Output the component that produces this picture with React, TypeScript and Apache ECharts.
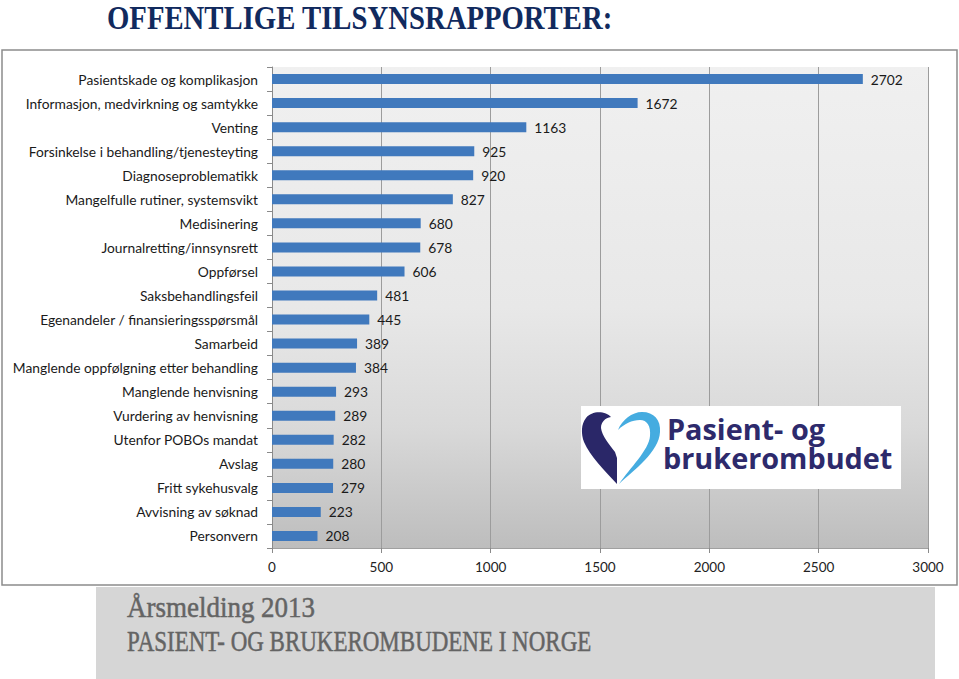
import React, { useEffect, useRef } from "react";
import * as echarts from "echarts";

const categories = [
  "Pasientskade og komplikasjon",
  "Informasjon, medvirkning og samtykke",
  "Venting",
  "Forsinkelse i behandling/tjenesteyting",
  "Diagnoseproblematikk",
  "Mangelfulle rutiner, systemsvikt",
  "Medisinering",
  "Journalretting/innsynsrett",
  "Oppførsel",
  "Saksbehandlingsfeil",
  "Egenandeler / finansieringsspørsmål",
  "Samarbeid",
  "Manglende oppfølgning etter behandling",
  "Manglende henvisning",
  "Vurdering av henvisning",
  "Utenfor POBOs mandat",
  "Avslag",
  "Fritt sykehusvalg",
  "Avvisning av søknad",
  "Personvern",
];
const values = [2702, 1672, 1163, 925, 920, 827, 680, 678, 606, 481, 445, 389, 384, 293, 289, 282, 280, 279, 223, 208];
const xMin = 0;
const xMax = 3000;
const xStep = 500;

const TITLE = "OFFENTLIGE TILSYNSRAPPORTER:";
const FOOTER_LINE1 = "Årsmelding 2013";
const FOOTER_LINE2 = "PASIENT- OG BRUKEROMBUDENE I NORGE";
const LOGO_LINE1 = "Pasient- og";
const LOGO_LINE2 = "brukerombudet";

const HEART_DARK =
  "M29 7 C24 1 10 0 4 8 C-1 14 -1 24 2 32 C8 46 22 60 35 74 L35 48 L33 42 C27 34 20 26 19 18 C19 12 23 8 29 7 Z";
const HEART_LIGHT =
  "M36 20 C40 10 50 2 60 2 C72 2 79 10 78 22 C77 42 52 60 37 74 C48 58 67 40 68 26 C69 16 65 10 58 10 C50 10 42 14 36 20 Z";

let registered = false;
function registerShapes() {
  if (registered) return;
  registered = true;
  echarts.graphic.registerShape("heartDark", echarts.graphic.extendPath(HEART_DARK, {}));
  echarts.graphic.registerShape("heartLight", echarts.graphic.extendPath(HEART_LIGHT, {}));
}

export default function App() {
  const ref = useRef<HTMLDivElement>(null);
  useEffect(() => {
    if (!ref.current) return;
    registerShapes();
    const chart = echarts.init(ref.current, undefined, { renderer: "svg" });
    const font = "Lato, 'Open Sans', sans-serif";
    chart.setOption({
      animation: false,
      backgroundColor: "#ffffff",
      grid: {
        left: 272,
        right: 31,
        top: 67,
        bottom: 131,
        show: true,
        borderWidth: 0,
        backgroundColor: new echarts.graphic.LinearGradient(0, 0, 0, 1, [
          { offset: 0, color: "#f0f0f0" },
          { offset: 0.5, color: "#e8e8e8" },
          { offset: 0.75, color: "#d9d9d9" },
          { offset: 1, color: "#bdbdbd" },
        ]),
      },
      xAxis: {
        type: "value",
        min: xMin,
        max: xMax,
        interval: xStep,
        axisLine: { show: true, lineStyle: { color: "#a0a0a0", width: 1 } },
        axisTick: { show: true, length: 5, lineStyle: { color: "#8a8a8a" } },
        splitLine: { show: true, lineStyle: { color: "#9c9c9c", width: 1 } },
        axisLabel: {
          color: "#222",
          fontFamily: font,
          fontSize: 13.5,
          margin: 12,
          formatter: (v: number) => String(v),
        },
      },
      yAxis: {
        type: "category",
        data: categories,
        inverse: true,
        axisLine: { show: true, lineStyle: { color: "#8a8a8a", width: 1 } },
        axisTick: { show: true, length: 5, lineStyle: { color: "#8a8a8a" } },
        axisLabel: { color: "#1a1a1a", fontFamily: font, fontSize: 13.8, margin: 14 },
      },
      series: [
        {
          type: "bar",
          data: values,
          barWidth: 10,
          itemStyle: { color: "#4079bd" },
          label: {
            show: true,
            position: "right",
            distance: 8,
            color: "#1a1a1a",
            fontFamily: font,
            fontSize: 13.8,
          },
        },
      ],
      graphic: [
        {
          type: "rect",
          shape: { x: 2, y: 50, width: 955, height: 535 },
          style: { fill: "none", stroke: "#8c8c8c", lineWidth: 1.5 },
          silent: true,
        },
        {
          type: "text",
          x: 107,
          y: 17.5,
          scaleX: 0.845,
          style: {
            text: TITLE,
            x: 0,
            y: 0,
            align: "left",
            verticalAlign: "middle",
            lineHeight: 30,
            fill: "#112a5e",
            font: "bold 34px 'Liberation Serif', 'DejaVu Serif', serif",
          },
        },
        {
          type: "rect",
          shape: { x: 96, y: 587, width: 839, height: 92 },
          style: { fill: "#d6d6d6" },
          silent: true,
        },
        {
          type: "text",
          x: 127,
          y: 607,
          scaleX: 0.9,
          style: {
            text: FOOTER_LINE1,
            x: 0,
            y: 0,
            align: "left",
            verticalAlign: "middle",
            fill: "#646464",
            stroke: "#646464",
            lineWidth: 0.5,
            font: "30px 'Liberation Serif', 'DejaVu Serif', serif",
          },
        },
        {
          type: "text",
          x: 127,
          y: 641,
          scaleX: 0.766,
          style: {
            text: FOOTER_LINE2,
            x: 0,
            y: 0,
            align: "left",
            verticalAlign: "middle",
            fill: "#646464",
            stroke: "#646464",
            lineWidth: 0.5,
            font: "30px 'Liberation Serif', 'DejaVu Serif', serif",
          },
        },
        {
          type: "group",
          z: 100,
          children: [
            {
              type: "rect",
              z: 100,
              shape: { x: 581, y: 406, width: 320, height: 83 },
              style: { fill: "#ffffff" },
            },
            {
              type: "heartDark",
              z: 101,
              x: 582,
              y: 410,
              style: { fill: "#2a2768" },
            },
            {
              type: "heartLight",
              z: 101,
              x: 582,
              y: 410,
              style: { fill: "#45ace0" },
            },
            {
              type: "text",
              z: 101,
              x: 667,
              y: 429,
              scaleX: 1.03,
              style: {
                text: LOGO_LINE1,
                align: "left",
                verticalAlign: "middle",
                lineHeight: 26,
                fill: "#2d2a6c",
                font: "bold 28px 'Open Sans', sans-serif",
              },
            },
            {
              type: "text",
              z: 101,
              x: 663,
              y: 458,
              scaleX: 1.03,
              style: {
                text: LOGO_LINE2,
                align: "left",
                verticalAlign: "middle",
                lineHeight: 26,
                fill: "#2d2a6c",
                font: "bold 28px 'Open Sans', sans-serif",
              },
            },
          ],
        },
      ],
    });
    return () => chart.dispose();
  }, []);
  return (
    <div
      ref={ref}
      style={{ position: "fixed", left: 0, top: 0, width: 959, height: 679 }}
    />
  );
}
